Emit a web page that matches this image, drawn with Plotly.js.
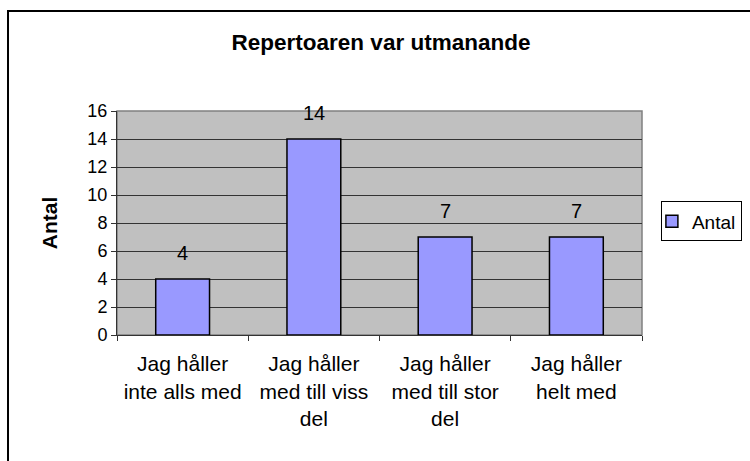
<!DOCTYPE html>
<html>
<head>
<meta charset="utf-8">
<script src="https://cdn.plot.ly/plotly-3.0.1.min.js"></script>
<style>
html, body { margin: 0; padding: 0; background: #ffffff; }
#chart { width: 750px; height: 461px; }
</style>
</head>
<body>
<div id="chart"></div>
<script>
const categories = [
  "Jag håller<br>inte alls med",
  "Jag håller<br>med till viss<br>del",
  "Jag håller<br>med till stor<br>del",
  "Jag håller<br>helt med"
];
const seriesName = "Antal";
const values = [4, 14, 7, 7];
const yTickValues = [0, 2, 4, 6, 8, 10, 12, 14, 16];
const chartTitle = "Repertoaren var utmanande";
const yAxisTitle = "Antal";

const FONT = "Liberation Sans, Arial, sans-serif";

const trace = {
  type: "bar",
  x: categories,
  y: values,
  name: seriesName,
  width: 0.41,
  marker: { color: "#9999ff", line: { color: "#000000", width: 1.5 } },
  showlegend: true,
  hoverinfo: "x+y"
};

const labels = categories.map((c, i) => ({
  x: c, y: values[i], xref: "x", yref: "y",
  text: String(values[i]), showarrow: false,
  yanchor: "middle", yshift: 26,
  font: { family: FONT, size: 20, color: "#000000" }
}));

const layout = {
  width: 750, height: 461,
  margin: { l: 117, r: 108, t: 111, b: 126, pad: 0, autoexpand: false },
  paper_bgcolor: "#ffffff",
  plot_bgcolor: "#c0c0c0",
  font: { family: FONT, size: 16, color: "#000000" },
  title: {
    text: "<b>" + chartTitle + "</b>",
    font: { family: FONT, size: 22.5, color: "#000000" },
    xref: "container", yref: "container",
    x: 0.508, xanchor: "center", y: 0.909, yanchor: "middle"
  },
  xaxis: {
    type: "category",
    showgrid: false,
    showline: true, linecolor: "#333333", linewidth: 1,
    ticks: "outside", tickson: "boundaries", ticklen: 5, tickcolor: "#333333",
    ticklabelstandoff: 10,
    tickfont: { family: FONT, size: 21, color: "#000000" },
    automargin: false,
    fixedrange: true
  },
  yaxis: {
    range: [0, 16],
    tickvals: yTickValues,
    showgrid: true, gridcolor: "#333333", gridwidth: 1,
    zeroline: false,
    showline: true, linecolor: "#333333", linewidth: 1,
    ticks: "outside", ticklen: 5, tickcolor: "#333333",
    tickfont: { family: FONT, size: 18, color: "#000000" },
    title: { text: "<b>" + yAxisTitle + "</b>", font: { family: FONT, size: 21, color: "#000000" }, standoff: 24 },
    automargin: false,
    fixedrange: true
  },
  legend: {
    x: 1.036, xanchor: "left", y: 0.507, yanchor: "middle",
    indentation: -10,
    bgcolor: "#ffffff", bordercolor: "#000000", borderwidth: 1,
    font: { family: FONT, size: 19, color: "#000000" }
  },
  bargap: 0.59,
  annotations: labels,
  shapes: [
    { type: "rect", xref: "paper", yref: "paper", x0: 0, x1: 1, y0: 0, y1: 1,
      line: { color: "#808080", width: 1.5 }, layer: "below" },
    { type: "rect", xref: "paper", yref: "paper",
      x0: -0.2076, x1: 1.5, y0: -1.0, y1: 1.4464,
      line: { color: "#000000", width: 2 }, fillcolor: "rgba(0,0,0,0)" }
  ]
};

Plotly.newPlot("chart", [trace], layout, { displayModeBar: false, staticPlot: true });
</script>
</body>
</html>
